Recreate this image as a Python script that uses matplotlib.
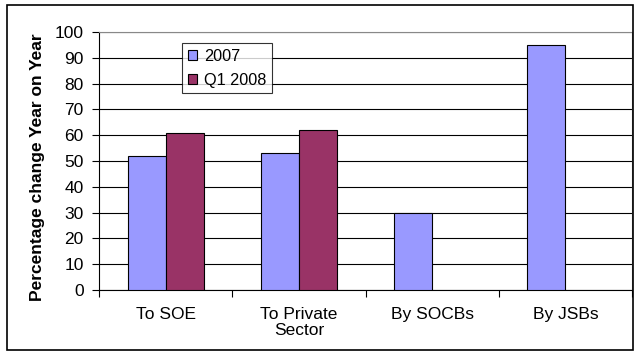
import numpy as np
import matplotlib
matplotlib.use("Agg")
import matplotlib.pyplot as plt
from matplotlib.patches import Rectangle

# data
categories = ["To SOE", "To Private\nSector", "By SOCBs", "By JSBs"]
series_names = ["2007", "Q1 2008"]
vals_2007 = [52, 53, 30, 95]
vals_q1_2008 = [61, 62, np.nan, np.nan]
yticks = [0, 10, 20, 30, 40, 50, 60, 70, 80, 90, 100]

plt.rcParams["font.family"] = ["Liberation Sans", "DejaVu Sans"]

W, H = 635, 352
fig = plt.figure(figsize=(W / 100, H / 100), dpi=100)
ax = fig.add_axes([99 / W, 1 - 290 / H, (632 - 99) / W, (290 - 32) / H])

x = np.arange(len(categories))
bw = 0.285
ax.bar(x - bw / 2, vals_2007, bw, color="#9999FF", edgecolor="black", linewidth=0.8,
       label=series_names[0], zorder=3)
ax.bar(x + bw / 2, vals_q1_2008, bw, color="#993366", edgecolor="black", linewidth=0.8,
       label=series_names[1], zorder=3)

ax.set_xlim(-0.5, len(categories) - 0.5)
ax.set_ylim(0, 100)
ax.set_yticks(yticks)
ax.tick_params(axis="y", labelsize=12.5, length=5, width=0.8, direction="out", pad=6)
ax.yaxis.grid(True, color="black", linewidth=0.8, zorder=0)

# category labels between boundary ticks
ax.set_xticks(np.arange(-0.5, len(categories), 1.0))
ax.set_xticklabels([])
ax.set_xticks(x, minor=True)
ax.set_xticklabels(categories, minor=True, fontsize=12.5, linespacing=1.15)
ax.tick_params(axis="x", which="minor", length=0, pad=12)
ax.tick_params(axis="x", which="major", length=5, width=0.8)

for s in ["top", "right"]:
    ax.spines[s].set_color("#888888")
ax.spines["left"].set_color("black")
ax.spines["bottom"].set_color("black")

ax.set_ylabel("Percentage change Year on Year", fontsize=12.5, fontweight="bold")
ax.yaxis.set_label_coords((45 - 99) / 533, 0.475)

leg = ax.legend(loc="upper left", bbox_to_anchor=((182 - 99) / (632 - 99), (290 - 43) / 258),
                fontsize=11.7, frameon=True, fancybox=False, edgecolor="black",
                handlelength=0.6, handleheight=0.6, handletextpad=0.4,
                borderpad=0.35, labelspacing=0.55, borderaxespad=0)
leg.get_frame().set_linewidth(0.8)
leg.set_zorder(5)

# outer chart frame
fig.patches.append(Rectangle((7 / W, 1 - 350 / H), (633 - 7) / W, (350 - 5) / H,
                             transform=fig.transFigure, fill=False,
                             edgecolor="black", linewidth=1.2))

fig.savefig("out.png", dpi=100)
